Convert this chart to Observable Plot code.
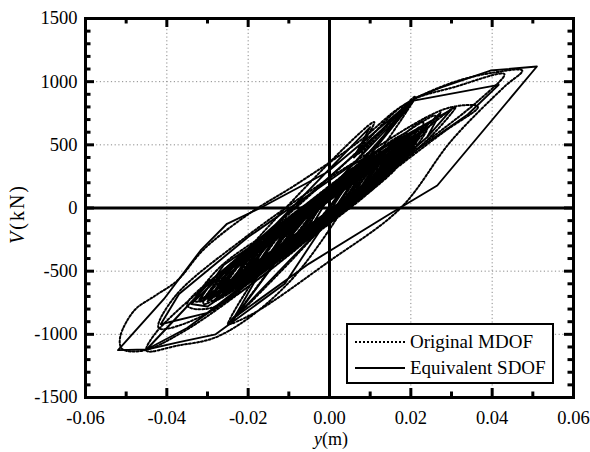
<!DOCTYPE html>
<html>
<head>
<meta charset="utf-8">
<script src="https://cdn.jsdelivr.net/npm/d3@7"></script>
<script src="https://cdn.jsdelivr.net/npm/@observablehq/plot@0.6"></script>
<style>
  html, body { margin: 0; padding: 0; background: #fff; }
  #chart { width: 590px; height: 452px; }
</style>
</head>
<body>
<div id="chart"></div>
<script>
// ---- tick values / labels ----
const xMajor = [-0.06, -0.04, -0.02, 0, 0.02, 0.04, 0.06];
const xMinor = [-0.05, -0.03, -0.01, 0.01, 0.03, 0.05];
const yMajor = [-1500, -1000, -500, 0, 500, 1000, 1500];
const yMinor = [-1400, -1300, -1200, -1100, -900, -800, -700, -600, -400, -300, -200, -100,
                100, 200, 300, 400, 600, 700, 800, 900, 1100, 1200, 1300, 1400];
const xGrid = [-0.04, -0.02, 0.02, 0.04];
const yGrid = [-1000, -500, 500, 1000];
const seriesNames = ["Original MDOF", "Equivalent SDOF"];

// ---- Equivalent SDOF : [y (m), V (kN)] ----
const sdofPoints = [
  [0, 0], [0.004, 190], [-0.001, -40], [-0.006, -230], [-0.001, 40], [0.008, 280], [0.003, 30],
  [-0.010, -320], [-0.005, -70], [0.012, 370], [0.007, 110], [-0.014, -410], [-0.009, -160],
  [0.015, 440], [0.010, 180], [-0.017, -480], [-0.012, -230],
  [0.020, 560], [0.014, 260], [-0.026, -680], [-0.020, -380],
  [0.018, 520], [0.012, 230], [-0.028, -720], [-0.022, -420],
  [0.010, 640], [0.006, 400], [0.020, 850], [0.013, 560], [-0.008, -200], [-0.024, -900],
  [-0.018, -560], [0.000, 150], [0.0207, 850],
  [0.010, 420], [-0.011, -600], [-0.028, -1000], [-0.037, -1062], [-0.045, -1120],
  [-0.029, -574], [-0.015, -180], [0.005, 390], [0.0207, 850], [0.0416, 975],
  [0.034, 740], [0.012, 250], [-0.010, -330], [-0.030, -830], [-0.0415, -920],
  [-0.037, -680], [-0.020, -230], [0.005, 330], [0.030, 780],
  [0.024, 560], [0.010, 170], [-0.015, -480], [-0.035, -950], [-0.045, -1120],
  [-0.052, -1125],
  [-0.0407, -720], [-0.0317, -336], [-0.0252, -125], [-0.017, 0], [-0.0006, 283], [0.0076, 505],
  [0.0212, 874], [0.0273, 953], [0.0396, 1088], [0.051, 1120],
  [0.0265, 178], [0.015, -44], [-0.005, -440], [-0.024, -880],
  [-0.021, -790], [-0.010, -420], [0.012, 290], [0.0273, 755], [0.024, 560], [0.000, -110],
  [-0.030, -780], [-0.034, -760], [-0.020, -330], [0.006, 300], [0.025, 690], [0.019, 460],
  [-0.009, -250], [-0.032, -730], [-0.026, -450], [0.000, 120], [0.022, 640],
  [0.016, 330], [-0.030, -740], [-0.024, -460], [0.017, 480], [0.011, 200],
  [-0.027, -660], [-0.021, -370], [0.021, 580], [0.015, 290], [-0.023, -600], [-0.017, -300],
  [0.019, 540], [0.013, 250], [-0.025, -650], [-0.019, -350], [0.016, 470], [0.010, 180],
  [-0.021, -550], [-0.015, -260], [0.013, 400], [0.007, 120], [-0.019, -500], [-0.013, -220],
  [0.021, 560], [0.016, 320], [-0.029, -700], [-0.024, -500], [0.023, 620], [0.017, 350],
  [-0.031, -720], [-0.026, -520], [0.019, 500], [0.014, 300], [-0.027, -640], [-0.022, -440],
  [0.017, 450], [0.012, 250], [-0.024, -560], [-0.019, -370], [0.015, 410], [0.010, 200],
  [-0.020, -480], [-0.015, -290],
  [0.012, 340], [0.007, 100], [-0.016, -430], [-0.011, -180], [0.014, 400], [0.009, 150],
  [-0.020, -520], [-0.015, -270], [0.018, 500], [0.013, 230], [-0.022, -580], [-0.017, -320],
  [0.020, 540], [0.015, 280], [-0.018, -470], [-0.013, -230], [0.011, 330], [0.006, 80],
  [-0.013, -370], [-0.008, -130], [0.009, 290], [0.004, 50],
  [0.016, 380], [-0.025, -640], [-0.019, -330], [0.018, 560], [0.012, 270], [-0.022, -560],
  [-0.016, -260], [0.014, 470], [0.008, 170], [-0.018, -470], [-0.012, -180], [0.010, 390],
  [0.004, 80], [-0.015, -400], [-0.009, -110], [0.008, 330], [0.002, 20], [-0.012, -330],
  [-0.006, -40], [0.006, 270], [0.000, -30], [-0.008, -250], [-0.003, 0], [0.004, 200], [0, 0]
];

// ---- Original MDOF : [y (m), V (kN)] ----
const mdofPoints = [
  [0, 0], [0.005, 220], [-0.001, -30], [-0.007, -270], [-0.001, 60], [0.009, 320], [0.003, 50],
  [-0.011, -360], [-0.005, -80], [0.013, 410], [0.007, 140], [-0.015, -450], [-0.009, -180],
  [0.016, 480], [0.010, 210], [-0.018, -520], [-0.012, -260],
  [0.021, 590], [0.015, 290], [-0.027, -700], [-0.021, -400],
  [0.019, 540], [0.013, 250], [-0.029, -740], [-0.023, -440],
  [0.011, 680], [0.007, 430], [0.021, 870], [0.014, 590], [-0.007, -170], [-0.025, -920],
  [-0.019, -590], [0.001, 170], [0.021, 880],
  [0.012, 430], [-0.010, -590], [-0.027, -1010], [-0.0375, -1090], [-0.045, -1130],
  [-0.043, -1000], [-0.030, -600], [-0.015, -190], [0.005, 390], [0.019, 830], [0.031, 960],
  [0.043, 1060],
  [0.037, 860], [0.013, 260], [-0.010, -330], [-0.031, -850], [-0.042, -950],
  [-0.038, -700], [-0.021, -240], [0.004, 320], [0.029, 790], [0.0365, 800],
  [0.028, 600], [0.011, 180], [-0.015, -500], [-0.036, -980], [-0.046, -1130], [-0.051, -1115],
  [-0.0515, -1025], [-0.048, -811], [-0.0428, -693], [-0.0374, -574], [-0.031, -330],
  [-0.020, -50], [-0.008, 190], [0.007, 520], [0.018, 810], [0.030, 990], [0.040, 1070],
  [0.0474, 1088],
  [0.043, 960], [0.030, 534], [0.0175, 0], [0.000, -420], [-0.019, -840], [-0.025, -920],
  [-0.022, -830], [-0.011, -470], [0.011, 270], [0.031, 800], [0.025, 570], [0.001, -80],
  [-0.029, -790], [-0.035, -770], [-0.021, -360], [0.006, 310], [0.026, 730], [0.020, 480],
  [-0.009, -270], [-0.033, -740], [-0.027, -470], [0.001, 130], [0.023, 680],
  [0.017, 350], [-0.031, -760], [-0.025, -480], [0.018, 500], [0.012, 220],
  [-0.028, -680], [-0.022, -390], [0.022, 600], [0.016, 310], [-0.024, -620], [-0.018, -320],
  [0.020, 560], [0.014, 270], [-0.026, -670], [-0.020, -370], [0.017, 490], [0.011, 200],
  [-0.022, -570], [-0.016, -280], [0.014, 420], [0.008, 140], [-0.020, -520], [-0.014, -240],
  [0.022, 580], [0.017, 340], [-0.030, -720], [-0.025, -510], [0.024, 640], [0.018, 370],
  [-0.032, -740], [-0.027, -530], [0.020, 520], [0.015, 320], [-0.028, -660], [-0.023, -450],
  [0.018, 470], [0.013, 270], [-0.025, -580], [-0.020, -380], [0.016, 430], [0.011, 220],
  [-0.021, -500], [-0.016, -300],
  [0.013, 360], [0.008, 120], [-0.017, -450], [-0.012, -200], [0.015, 420], [0.010, 170],
  [-0.021, -540], [-0.016, -290], [0.019, 520], [0.014, 250], [-0.023, -600], [-0.018, -340],
  [0.021, 560], [0.016, 300], [-0.019, -490], [-0.014, -250], [0.012, 350], [0.007, 100],
  [-0.014, -390], [-0.009, -150], [0.010, 310], [0.005, 70],
  [0.017, 390], [-0.024, -630], [-0.018, -320], [0.019, 590], [0.013, 290], [-0.021, -550],
  [-0.015, -250], [0.015, 500], [0.009, 180], [-0.017, -460], [-0.011, -170], [0.011, 410],
  [0.005, 90], [-0.014, -390], [-0.008, -100], [0.009, 350], [0.003, 30], [-0.011, -320],
  [-0.005, -30], [0.007, 290], [0.001, -20], [-0.007, -240], [-0.002, 10], [0.005, 210], [0, 0]
];

const W = 590, H = 452;
const mL = 85, mR = 17, mT = 18, mB = 55;
const plotW = W - mL - mR, plotH = H - mT - mB;
const majorLen = 9, minorLen = 5.5;
const fmtX = d => d.toFixed(2);
const fmtY = d => String(d);
const font = "'Liberation Serif', 'Times New Roman', serif";
const dotDash = "2,2";

const chart = Plot.plot({
  width: W,
  height: H,
  marginLeft: mL, marginRight: mR, marginTop: mT, marginBottom: mB,
  style: { fontFamily: font, fontSize: "18.5px", background: "#fff", color: "#000" },
  x: { domain: [-0.06, 0.06], nice: false },
  y: { domain: [-1500, 1500], nice: false },
  marks: [
    Plot.ruleX(xGrid, { x: d => d, stroke: "#8a8a8a", strokeWidth: 1, strokeDasharray: "1.2,2.5" }),
    Plot.ruleY(yGrid, { y: d => d, stroke: "#8a8a8a", strokeWidth: 1, strokeDasharray: "1.2,2.5" }),
    Plot.line(mdofPoints, { x: d => d[0], y: d => d[1], curve: "catmull-rom", stroke: "#000", strokeWidth: 2, strokeDasharray: dotDash }),
    Plot.line(sdofPoints, { x: d => d[0], y: d => d[1], stroke: "#000", strokeWidth: 1.9 }),
    Plot.ruleX([0], { x: d => d, stroke: "#000", strokeWidth: 3 }),
    Plot.ruleY([0], { y: d => d, stroke: "#000", strokeWidth: 3 }),
    // inward ticks, all four sides
    Plot.tickX(xMajor, { x: d => d, insetTop: plotH - majorLen, strokeWidth: 3 }),
    Plot.tickX(xMajor, { x: d => d, insetBottom: plotH - majorLen, strokeWidth: 3 }),
    Plot.tickX(xMinor, { x: d => d, insetTop: plotH - minorLen, strokeWidth: 3 }),
    Plot.tickX(xMinor, { x: d => d, insetBottom: plotH - minorLen, strokeWidth: 3 }),
    Plot.tickY(yMajor, { y: d => d, insetRight: plotW - majorLen, strokeWidth: 3 }),
    Plot.tickY(yMajor, { y: d => d, insetLeft: plotW - majorLen, strokeWidth: 3 }),
    Plot.tickY(yMinor, { y: d => d, insetRight: plotW - minorLen, strokeWidth: 3 }),
    Plot.tickY(yMinor, { y: d => d, insetLeft: plotW - minorLen, strokeWidth: 3 }),
    Plot.frame({ stroke: "#000", strokeWidth: 3 }),
    Plot.axisX(xMajor, { anchor: "bottom", tickSize: 0, tickPadding: 13, tickFormat: fmtX, label: null, fontSize: 18.5 }),
    Plot.axisY(yMajor, { anchor: "left", tickSize: 0, tickPadding: 8, tickFormat: fmtY, label: null, fontSize: 18.5 })
  ]
});

document.getElementById("chart").appendChild(chart);

// ---- axis titles and legend ----
const svg = d3.select(chart);

const yt = svg.append("text")
  .attr("transform", "translate(24,214) rotate(-90)")
  .attr("text-anchor", "middle")
  .attr("letter-spacing", "2px")
  .attr("font-family", font).attr("font-size", 20).attr("fill", "#000");
yt.append("tspan").attr("font-style", "italic").text("V");
yt.append("tspan").text("(kN)");

const xt = svg.append("text")
  .attr("x", 331).attr("y", 445)
  .attr("text-anchor", "middle")
  .attr("font-family", font).attr("font-size", 18).attr("fill", "#000");
xt.append("tspan").attr("font-style", "italic").text("y");
xt.append("tspan").text("(m)");

const lg = svg.append("g").attr("text-anchor", "start");
lg.append("rect").attr("x", 347).attr("y", 324).attr("width", 206).attr("height", 59)
  .attr("fill", "#fff").attr("stroke", "#000").attr("stroke-width", 2);
lg.append("line").attr("x1", 355).attr("x2", 405).attr("y1", 342).attr("y2", 342)
  .attr("stroke", "#000").attr("stroke-width", 2).attr("stroke-dasharray", dotDash);
lg.append("line").attr("x1", 355).attr("x2", 405).attr("y1", 368).attr("y2", 368)
  .attr("stroke", "#000").attr("stroke-width", 1.9);
lg.append("text").attr("x", 410).attr("y", 348).attr("text-anchor", "start")
  .attr("font-family", font).attr("font-size", 19).attr("fill", "#000").text(seriesNames[0]);
lg.append("text").attr("x", 410).attr("y", 374).attr("text-anchor", "start")
  .attr("font-family", font).attr("font-size", 19).attr("fill", "#000").text(seriesNames[1]);
</script>
</body>
</html>
